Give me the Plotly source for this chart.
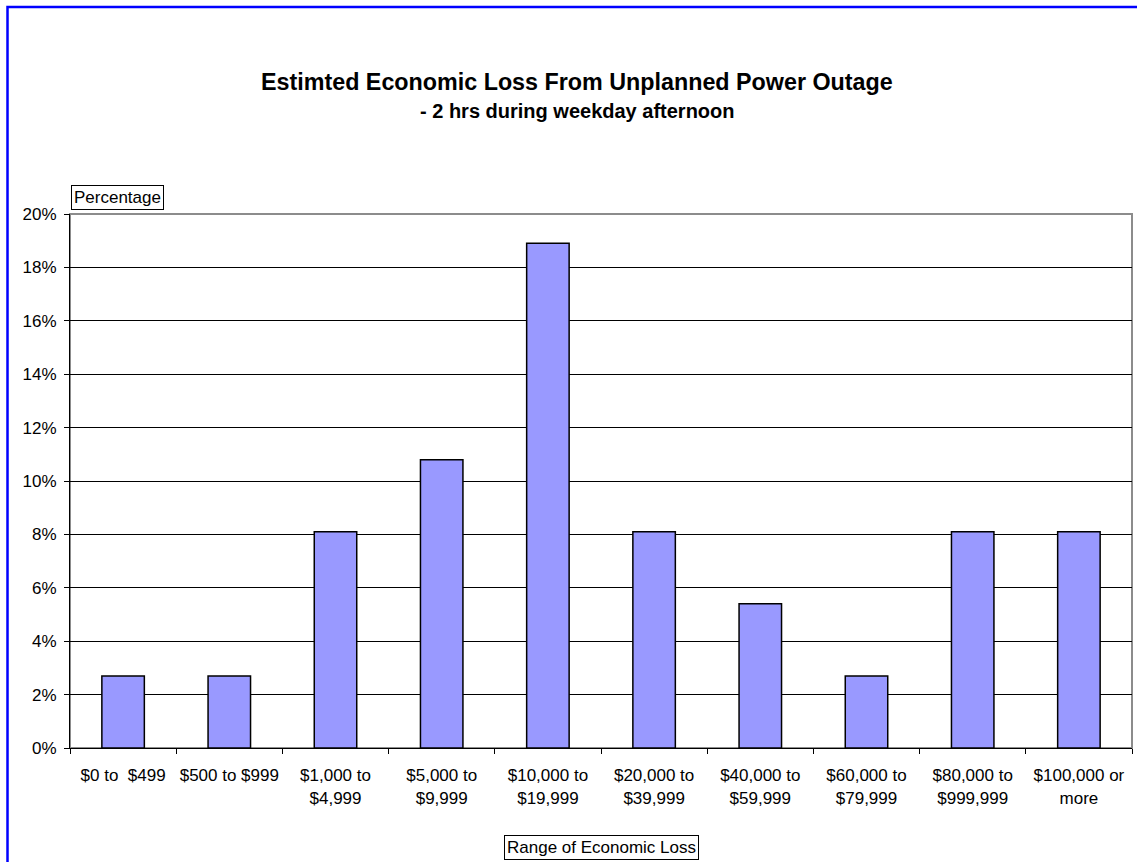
import plotly.graph_objects as go

# Survey result: share of respondents per range of economic loss
categories = [
    "$0 to  $499",
    "$500 to $999",
    "$1,000 to<br>$4,999",
    "$5,000 to<br>$9,999",
    "$10,000 to<br>$19,999",
    "$20,000 to<br>$39,999",
    "$40,000 to<br>$59,999",
    "$60,000 to<br>$79,999",
    "$80,000 to<br>$999,999",
    "$100,000 or<br>more",
]
percentages = [2.7, 2.7, 8.1, 10.8, 18.9, 8.1, 5.4, 2.7, 8.1, 8.1]
y_ticks = list(range(0, 21, 2))

title_text = "Estimted Economic Loss From Unplanned Power Outage"
subtitle_text = "- 2 hrs during weekday afternoon"
y_label = "Percentage"
x_label = "Range of Economic Loss"

FONT = "Liberation Sans, Arial, sans-serif"

W, H = 1137, 862
L, R, T, B = 70, 5, 214, 114
plot_w = W - L - R
plot_h = H - T - B


def px_x(px):
    return (px - L) / plot_w


def px_y(py):
    return (H - B - py) / plot_h


fig = go.Figure(
    go.Bar(
        x=categories,
        y=percentages,
        width=0.4,
        marker=dict(color="#9999FF", line=dict(color="#000000", width=1.5)),
        hoverinfo="x+y",
    )
)

fig.update_layout(
    width=W,
    height=H,
    margin=dict(l=L, r=R, t=T, b=B, pad=0, autoexpand=False),
    paper_bgcolor="white",
    plot_bgcolor="white",
    showlegend=False,
    font=dict(family=FONT, size=17, color="black"),
    bargap=0.6,
)

fig.update_xaxes(
    type="category",
    automargin=False,
    tickangle=0,
    showline=True,
    linecolor="black",
    linewidth=1,
    ticks="outside",
    ticklen=5,
    tickcolor="black",
    tickson="boundaries",
    showgrid=False,
    tickfont=dict(family=FONT, size=17, color="black"),
    ticklabelstandoff=12,
    range=[-0.5, len(categories) - 0.5],
)

fig.update_yaxes(
    automargin=False,
    range=[0, 20],
    tickvals=y_ticks,
    ticktext=[f"{v}%" for v in y_ticks],
    showline=True,
    linecolor="black",
    linewidth=1,
    ticks="outside",
    ticklen=5,
    tickcolor="black",
    showgrid=True,
    gridcolor="black",
    gridwidth=1,
    zeroline=False,
    tickfont=dict(family=FONT, size=17, color="black"),
    ticklabelstandoff=4,
)

shapes = [
    # grey plot-area frame (top and right edges show)
    dict(type="rect", xref="paper", yref="paper", x0=0, x1=1, y0=0, y1=1,
         line=dict(color="#8C8C8C", width=2), layer="below"),
    # blue outer chart border
    dict(type="rect", xref="paper", yref="paper",
         x0=px_x(7.5), x1=px_x(W + 40), y0=px_y(H + 40), y1=px_y(7),
         line=dict(color="#0000FF", width=2.5)),
]

annotations = [
    dict(text=f"<b>{title_text}</b>", xref="paper", yref="paper",
         x=px_x(577), y=px_y(82), xanchor="center", yanchor="middle",
         showarrow=False, font=dict(family=FONT, size=23.3, color="black")),
    dict(text=f"<b>{subtitle_text}</b>", xref="paper", yref="paper",
         x=px_x(577), y=px_y(111), xanchor="center", yanchor="middle",
         showarrow=False, font=dict(family=FONT, size=20, color="black")),
    dict(text=y_label, xref="paper", yref="paper",
         x=px_x(71), y=px_y(198), xanchor="left", yanchor="middle",
         showarrow=False, bordercolor="black", borderwidth=1, borderpad=2,
         bgcolor="white", font=dict(family=FONT, size=17, color="black")),
    dict(text=x_label, xref="paper", yref="paper",
         x=px_x(601), y=px_y(847), xanchor="center", yanchor="middle",
         showarrow=False, bordercolor="black", borderwidth=1, borderpad=2,
         bgcolor="white", font=dict(family=FONT, size=17, color="black")),
]

fig.update_layout(shapes=shapes, annotations=annotations)

fig.write_html("out.html")
